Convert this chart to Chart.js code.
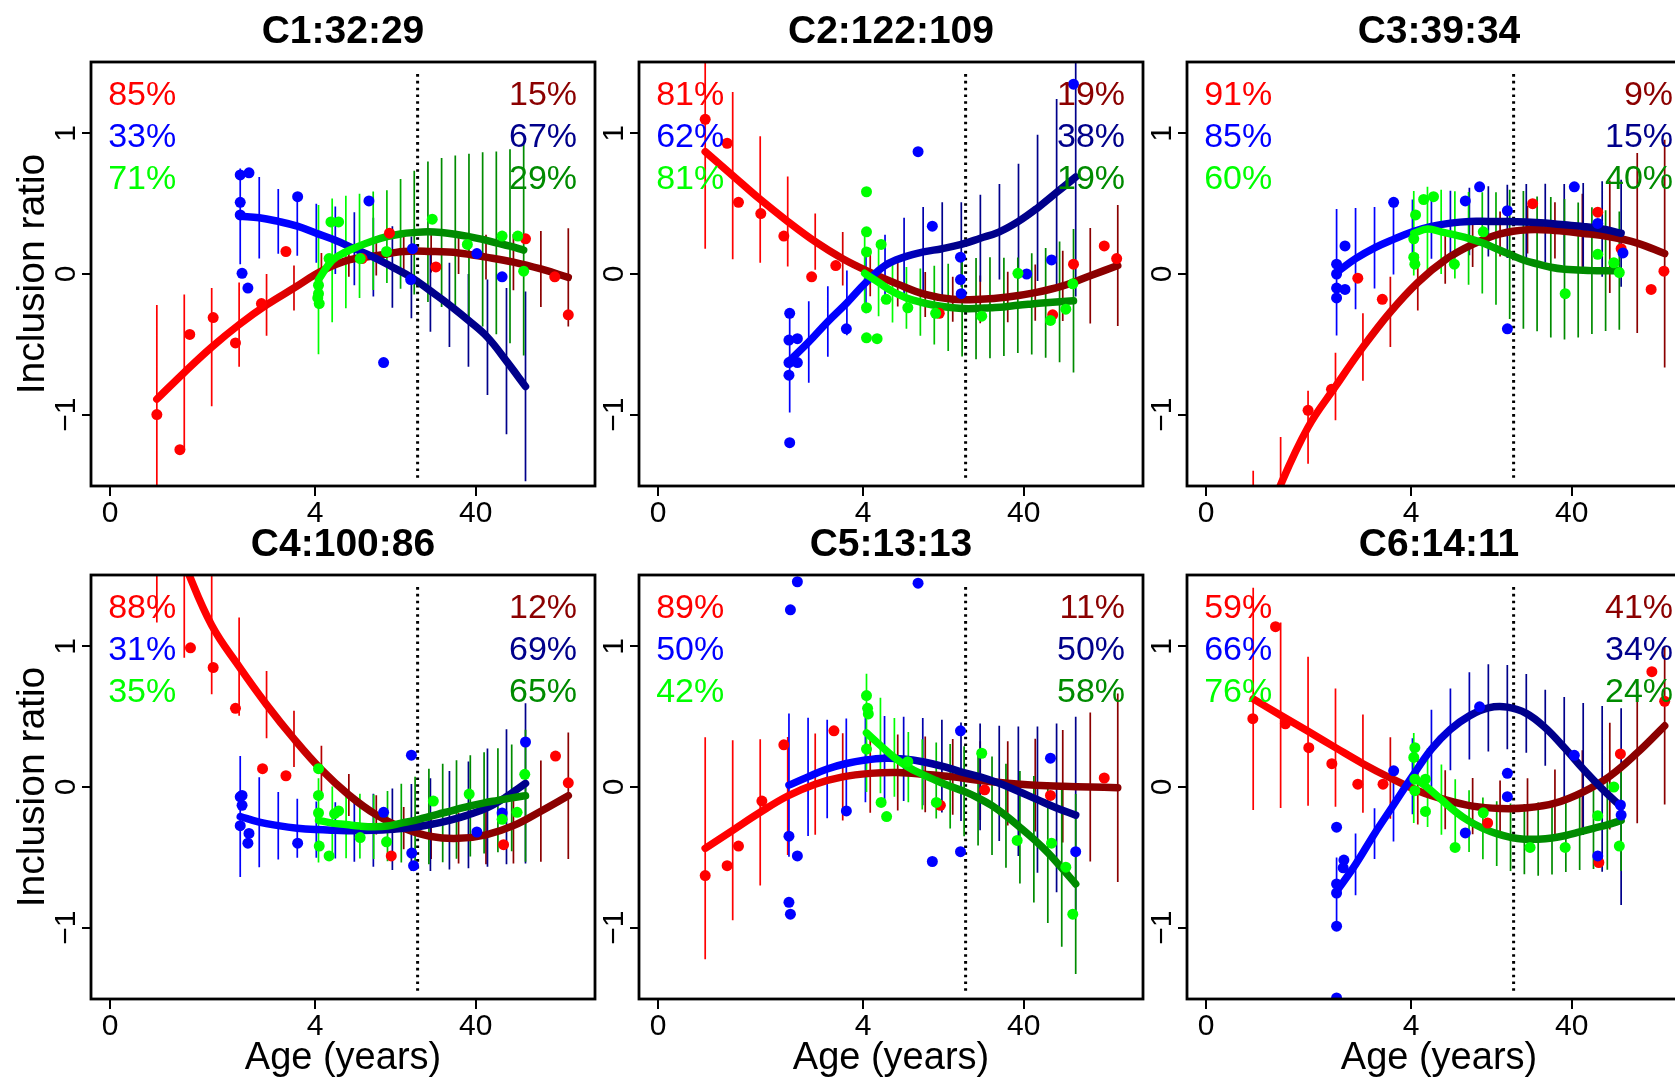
<!DOCTYPE html>
<html>
<head>
<meta charset="utf-8">
<title>Inclusion ratio by age</title>
<script src="https://cdn.jsdelivr.net/npm/chart.js@4.4.1/dist/chart.umd.min.js"></script>
<style>
  html, body { margin:0; padding:0; background:#fff; overflow:hidden; }
  #wrap { position:relative; width:1675px; height:1079px; overflow:hidden; background:#fff; }
  #wrap canvas { position:absolute; }
</style>
</head>
<body>
<div id="wrap"></div>
<script>
// x is in plot units: tick "0" sits at 0, "4" at 56.1, "40" at 100
const X_TICK_VALUES = [0, 56.1, 100];
const X_TICK_LABELS = ['0', '4', '40'];
const Y_TICK_VALUES = [-1, 0, 1];
const Y_TICK_LABELS = ['\u22121', '0', '1'];
const SPLIT_X = 84.1;            // dotted line
const PCT_ROWS = [1.27, 0.97, 0.67];
const PCT_X = [-0.5, 127.7];

const TITLES = ['C1:32:29', 'C2:122:109', 'C3:39:34', 'C4:100:86', 'C5:13:13', 'C6:14:11'];

// --- C1 ---
const C1_PCT_LEFT = ['85%', '33%', '71%'];
const C1_PCT_RIGHT = ['15%', '67%', '29%'];
const C1_RED_SPAN = [12.8, 125.3];
const C1_RED_FIT = [-0.89, -0.70, -0.52, -0.36, -0.22, -0.10, 0.02, 0.10, 0.13, 0.16, 0.16, 0.15, 0.12, 0.085, 0.036, -0.024];
const C1_RED_ERR = [0.67, 0.555, 0.42, 0.30, 0.22, 0.16, 0.13, 0.12, 0.14, 0.15, 0.15, 0.15, 0.16, 0.2, 0.27, 0.35];
const C1_RED_PTS = [[12.8,-1.00],[19.1,-1.25],[21.8,-0.43],[28.2,-0.31],[34.3,-0.49],[41.4,-0.21],[48.1,0.16],[68.9,0.11],[76.4,0.29],[89.1,0.05],[113.6,0.25],[121.6,-0.02],[125.3,-0.29]];
const C1_BLUE_SPAN = [35.6, 113.6];
const C1_BLUE_FIT = [0.41, 0.40, 0.374, 0.34, 0.29, 0.24, 0.18, 0.12, 0.05, -0.024, -0.12, -0.22, -0.33, -0.45, -0.62, -0.80];
const C1_BLUE_ERR = [0.34, 0.29, 0.23, 0.21, 0.21, 0.24, 0.26, 0.28, 0.29, 0.29, 0.29, 0.30, 0.33, 0.41, 0.52, 0.675];
const C1_BLUE_PTS = [[35.6,0.705],[38.0,0.72],[35.6,0.51],[35.6,0.42],[36.1,0.005],[37.7,-0.10],[51.3,0.55],[70.8,0.52],[74.8,-0.63],[82.2,-0.04],[82.7,0.18],[100.3,0.145],[107.2,-0.02]];
const C1_GREEN_SPAN = [57.0, 113.1];
const C1_GREEN_FIT = [-0.04, 0.097, 0.157, 0.20, 0.237, 0.266, 0.285, 0.295, 0.30, 0.295, 0.283, 0.266, 0.246, 0.222, 0.198, 0.17];
const C1_GREEN_ERR = [0.53, 0.44, 0.40, 0.37, 0.35, 0.33, 0.39, 0.44, 0.50, 0.53, 0.56, 0.59, 0.62, 0.65, 0.69, 0.75];
const C1_GREEN_PTS = [[57.0,-0.08],[57.0,-0.14],[57.2,-0.21],[56.8,-0.17],[59.9,0.11],[60.4,0.37],[62.5,0.37],[68.4,0.11],[75.6,0.16],[88.1,0.39],[97.7,0.21],[107.2,0.27],[111.5,0.27],[113.1,0.02]];

// --- C2 ---
const C2_PCT_LEFT = ['81%', '62%', '81%'];
const C2_PCT_RIGHT = ['19%', '38%', '19%'];
const C2_RED_SPAN = [12.9, 125.7];
const C2_RED_FIT = [0.87, 0.70, 0.53, 0.374, 0.23, 0.109, 0.012, -0.072, -0.145, -0.18, -0.18, -0.164, -0.133, -0.085, -0.012, 0.06];
const C2_RED_ERR = [0.69, 0.595, 0.45, 0.32, 0.2, 0.19, 0.17, 0.16, 0.16, 0.16, 0.17, 0.18, 0.2, 0.25, 0.34, 0.43];
const C2_RED_PTS = [[12.9,1.10],[18.9,0.93],[22.0,0.51],[28.1,0.43],[34.4,0.27],[42.0,-0.02],[48.6,0.06],[76.9,-0.28],[107.9,-0.29],[113.6,0.07],[122.0,0.20],[125.4,0.11]];
const C2_BLUE_SPAN = [36.0, 114.2];
const C2_BLUE_FIT = [-0.616, -0.483, -0.338, -0.205, -0.06, 0.06, 0.12, 0.157, 0.18, 0.21, 0.254, 0.30, 0.374, 0.47, 0.58, 0.69];
const C2_BLUE_ERR = [0.37, 0.29, 0.25, 0.23, 0.22, 0.22, 0.28, 0.32, 0.33, 0.30, 0.31, 0.34, 0.41, 0.52, 0.665, 0.85];
const C2_BLUE_PTS = [[36.0,-0.28],[35.8,-0.47],[38.1,-0.46],[35.8,-0.63],[38.1,-0.63],[35.8,-0.72],[36.0,-1.20],[51.5,-0.39],[71.1,0.87],[75.0,0.34],[82.7,0.12],[82.7,-0.04],[82.9,-0.14],[100.8,0.0],[107.6,0.10],[113.6,1.35]];
const C2_GREEN_SPAN = [56.5, 113.6];
const C2_GREEN_FIT = [0.005, -0.06, -0.125, -0.17, -0.20, -0.222, -0.237, -0.246, -0.246, -0.24, -0.234, -0.222, -0.213, -0.205, -0.198, -0.19];
const C2_GREEN_ERR = [0.27, 0.24, 0.22, 0.22, 0.24, 0.28, 0.31, 0.34, 0.36, 0.36, 0.35, 0.34, 0.36, 0.39, 0.43, 0.51];
const C2_GREEN_PTS = [[57.0,0.585],[57.0,0.30],[57.0,0.157],[57.0,-0.24],[57.0,-0.454],[59.9,-0.46],[61.0,0.21],[62.4,-0.18],[68.3,-0.24],[75.9,-0.28],[88.5,-0.30],[98.4,0.005],[107.3,-0.33],[111.5,-0.25],[113.4,-0.07]];

// --- C3 ---
const C3_PCT_LEFT = ['91%', '85%', '60%'];
const C3_PCT_RIGHT = ['9%', '15%', '40%'];
const C3_RED_SPAN = [12.9, 125.4];
const C3_RED_FIT = [-2.0, -1.50, -1.09, -0.80, -0.52, -0.27, -0.06, 0.10, 0.21, 0.285, 0.315, 0.31, 0.29, 0.265, 0.22, 0.145];
const C3_RED_ERR = [0.6, 0.34, 0.26, 0.24, 0.24, 0.25, 0.2, 0.17, 0.16, 0.16, 0.17, 0.2, 0.28, 0.4, 0.64, 0.81];
const C3_RED_PTS = [[27.9,-0.97],[34.3,-0.82],[41.5,-0.03],[48.2,-0.18],[89.3,0.50],[107.1,0.44],[113.5,0.18],[121.7,-0.11],[125.2,0.02]];
const C3_BLUE_SPAN = [35.7, 113.5];
const C3_BLUE_FIT = [0.012, 0.109, 0.186, 0.246, 0.30, 0.338, 0.362, 0.374, 0.374, 0.374, 0.37, 0.362, 0.35, 0.338, 0.32, 0.29];
const C3_BLUE_ERR = [0.45, 0.36, 0.29, 0.25, 0.23, 0.23, 0.23, 0.24, 0.25, 0.26, 0.27, 0.28, 0.29, 0.31, 0.34, 0.38];
const C3_BLUE_PTS = [[35.7,0.07],[35.7,0.0],[35.7,-0.10],[38.0,-0.11],[35.7,-0.17],[38.0,0.20],[51.3,0.51],[70.9,0.52],[74.8,0.62],[82.4,0.45],[82.4,-0.39],[100.7,0.62],[107.1,0.36],[114.0,0.15]];
const C3_GREEN_SPAN = [56.8, 113.0];
const C3_GREEN_FIT = [0.29, 0.32, 0.30, 0.278, 0.254, 0.222, 0.181, 0.14, 0.10, 0.072, 0.048, 0.034, 0.029, 0.024, 0.024, 0.024];
const C3_GREEN_ERR = [0.3, 0.3, 0.3, 0.31, 0.33, 0.36, 0.40, 0.46, 0.49, 0.48, 0.5, 0.5, 0.48, 0.45, 0.43, 0.42];
const C3_GREEN_PTS = [[57.3,0.42],[56.8,0.25],[56.8,0.12],[57.1,0.07],[59.5,0.53],[62.2,0.55],[67.9,0.07],[75.8,0.30],[98.2,-0.14],[107.1,0.14],[111.5,0.08],[113.0,0.01]];

// --- C4 ---
const C4_PCT_LEFT = ['88%', '31%', '35%'];
const C4_PCT_RIGHT = ['12%', '69%', '65%'];
const C4_RED_SPAN = [12.8, 125.3];
const C4_RED_FIT = [2.05, 1.59, 1.15, 0.856, 0.586, 0.342, 0.123, -0.057, -0.198, -0.293, -0.352, -0.365, -0.34, -0.275, -0.172, -0.062];
const C4_RED_ERR = [0.88, 0.67, 0.49, 0.35, 0.24, 0.2, 0.17, 0.15, 0.14, 0.15, 0.16, 0.18, 0.21, 0.27, 0.36, 0.45];
const C4_RED_PTS = [[22.0,0.99],[28.2,0.85],[34.3,0.56],[41.7,0.13],[48.1,0.08],[76.9,-0.49],[107.6,-0.41],[121.8,0.22],[125.3,0.03]];
const C4_BLUE_SPAN = [35.6, 113.6];
const C4_BLUE_FIT = [-0.21, -0.25, -0.275, -0.293, -0.303, -0.308, -0.311, -0.308, -0.30, -0.288, -0.267, -0.237, -0.198, -0.147, -0.069, 0.026];
const C4_BLUE_ERR = [0.43, 0.32, 0.24, 0.21, 0.2, 0.2, 0.22, 0.26, 0.29, 0.31, 0.33, 0.35, 0.38, 0.42, 0.48, 0.57];
const C4_BLUE_PTS = [[35.6,-0.07],[36.1,-0.06],[36.1,-0.13],[35.6,-0.275],[38.0,-0.33],[37.7,-0.40],[51.3,-0.40],[74.8,-0.18],[82.4,0.226],[82.5,-0.47],[83.0,-0.56],[100.3,-0.32],[107.2,-0.185],[113.6,0.32]];
const C4_GREEN_SPAN = [57.0, 113.6];
const C4_GREEN_FIT = [-0.237, -0.257, -0.267, -0.278, -0.283, -0.278, -0.257, -0.237, -0.21, -0.185, -0.16, -0.134, -0.113, -0.095, -0.077, -0.062];
const C4_GREEN_ERR = [0.3, 0.26, 0.24, 0.23, 0.23, 0.25, 0.28, 0.31, 0.34, 0.35, 0.35, 0.36, 0.36, 0.37, 0.38, 0.47];
const C4_GREEN_PTS = [[57.0,0.13],[57.0,-0.06],[57.0,-0.185],[57.2,-0.42],[59.9,-0.49],[61.4,-0.19],[62.5,-0.17],[68.4,-0.36],[75.6,-0.39],[88.4,-0.10],[98.2,-0.05],[107.2,-0.23],[111.3,-0.18],[113.4,0.09]];

// --- C5 ---
const C5_PCT_LEFT = ['89%', '50%', '42%'];
const C5_PCT_RIGHT = ['11%', '50%', '58%'];
const C5_RED_SPAN = [12.9, 125.7];
const C5_RED_FIT = [-0.436, -0.308, -0.18, -0.064, 0.02, 0.072, 0.097, 0.103, 0.09, 0.072, 0.046, 0.026, 0.013, 0.005, 0.0, -0.005];
const C5_RED_ERR = [0.79, 0.64, 0.52, 0.42, 0.36, 0.31, 0.28, 0.27, 0.27, 0.27, 0.28, 0.3, 0.33, 0.4, 0.53, 0.67];
const C5_RED_PTS = [[12.9,-0.63],[18.9,-0.56],[22.0,-0.42],[28.4,-0.10],[34.4,0.30],[48.1,0.40],[77.2,-0.13],[89.3,-0.02],[107.3,-0.06],[122.0,0.064]];
const C5_BLUE_SPAN = [35.8, 114.2];
const C5_BLUE_FIT = [0.013, 0.072, 0.128, 0.167, 0.192, 0.205, 0.2, 0.18, 0.149, 0.108, 0.072, 0.026, -0.03, -0.09, -0.149, -0.20];
const C5_BLUE_ERR = [0.51, 0.42, 0.35, 0.32, 0.3, 0.3, 0.3, 0.31, 0.33, 0.35, 0.38, 0.41, 0.46, 0.52, 0.6, 0.7];
const C5_BLUE_PTS = [[38.1,1.46],[36.2,1.26],[35.8,-0.35],[38.1,-0.49],[35.8,-0.82],[36.2,-0.905],[51.5,-0.17],[71.1,1.45],[75.0,-0.53],[82.7,0.40],[82.7,-0.46],[107.3,0.205],[114.2,-0.46]];
const C5_GREEN_SPAN = [57.0, 114.2];
const C5_GREEN_FIT = [0.385, 0.295, 0.21, 0.141, 0.09, 0.046, 0.005, -0.031, -0.077, -0.133, -0.205, -0.287, -0.372, -0.467, -0.577, -0.69];
const C5_GREEN_ERR = [0.42, 0.34, 0.28, 0.25, 0.25, 0.27, 0.3, 0.32, 0.34, 0.35, 0.37, 0.4, 0.45, 0.5, 0.56, 0.64];
const C5_GREEN_PTS = [[57.0,0.65],[57.3,0.56],[57.5,0.52],[57.0,0.27],[61.0,-0.11],[62.5,-0.21],[68.3,0.18],[76.1,-0.11],[88.5,0.24],[98.2,-0.38],[107.6,-0.40],[111.5,-0.57],[113.4,-0.905]];

// --- C6 ---
const C6_PCT_LEFT = ['59%', '66%', '76%'];
const C6_PCT_RIGHT = ['41%', '34%', '24%'];
const C6_RED_SPAN = [12.9, 125.4];
const C6_RED_FIT = [0.627, 0.51, 0.396, 0.28, 0.166, 0.064, -0.026, -0.09, -0.136, -0.153, -0.148, -0.115, -0.038, 0.077, 0.243, 0.435];
const C6_RED_ERR = [0.79, 0.66, 0.53, 0.42, 0.35, 0.29, 0.24, 0.21, 0.2, 0.2, 0.21, 0.24, 0.3, 0.38, 0.5, 0.56];
const C6_RED_PTS = [[12.8,0.486],[19.0,1.14],[21.7,0.45],[28.1,0.28],[34.4,0.166],[41.5,0.02],[48.4,0.02],[77.0,-0.256],[107.4,-0.537],[113.3,0.235],[121.9,0.82],[125.4,0.61]];
const C6_BLUE_SPAN = [35.7, 113.5];
const C6_BLUE_FIT = [-0.742, -0.55, -0.332, -0.128, 0.077, 0.27, 0.41, 0.506, 0.563, 0.568, 0.524, 0.422, 0.281, 0.128, -0.013, -0.14];
const C6_BLUE_ERR = [0.24, 0.22, 0.18, 0.26, 0.27, 0.28, 0.29, 0.31, 0.31, 0.30, 0.28, 0.27, 0.36, 0.47, 0.59, 0.70];
const C6_BLUE_PTS = [[35.7,-0.286],[37.7,-0.52],[37.5,-0.575],[35.7,-0.69],[35.7,-0.754],[35.7,-0.99],[35.7,-1.50],[51.3,0.115],[70.9,-0.327],[74.8,0.57],[82.4,0.097],[82.4,-0.069],[100.7,0.225],[107.1,-0.49],[113.3,-0.128],[113.5,-0.2]];
const C6_GREEN_SPAN = [56.8, 113.5];
const C6_GREEN_FIT = [0.064, -0.005, -0.09, -0.174, -0.243, -0.294, -0.332, -0.358, -0.371, -0.371, -0.363, -0.345, -0.32, -0.294, -0.269, -0.238];
const C6_GREEN_ERR = [0.32, 0.28, 0.25, 0.23, 0.22, 0.22, 0.23, 0.24, 0.25, 0.26, 0.26, 0.26, 0.27, 0.29, 0.32, 0.36];
const C6_GREEN_PTS = [[57.1,0.28],[56.8,0.21],[57.1,0.056],[57.1,-0.026],[60.0,0.056],[60.0,-0.174],[68.1,-0.43],[75.8,-0.184],[88.6,-0.43],[98.2,-0.43],[107.1,-0.205],[111.5,0.0],[113.0,-0.42]];

// --- styles ---
const FONT = '"Liberation Sans", Arial, Helvetica, sans-serif';
const SERIES_KEYS = ['red', 'blue', 'green'];
const COLORS = {
  red:   { bright: '#ff0000', dark: '#8b0000', fade: [40, 68] },
  blue:  { bright: '#0000ff', dark: '#00008b', fade: [58, 78] },
  green: { bright: '#00ff00', dark: '#008b00', fade: [66, 84] }
};
const X_MIN = -5.2, X_MAX = 132.6, Y_MIN = -1.508, Y_MAX = 1.508;
const CANVAS_W = 610, CANVAS_H = 566, COL_STEP = 548, ROW_STEP = 513;
const BOX_LEFT = 91, BOX_RIGHT_PAD = CANVAS_W - 91 - 504, X_AXIS_H = 80;

function series(span, fit, err, pts){ return { span, fit, err, pts }; }

const PANELS = [
  { title: TITLES[0], left: C1_PCT_LEFT, right: C1_PCT_RIGHT, series: {
    red: series(C1_RED_SPAN, C1_RED_FIT, C1_RED_ERR, C1_RED_PTS),
    blue: series(C1_BLUE_SPAN, C1_BLUE_FIT, C1_BLUE_ERR, C1_BLUE_PTS),
    green: series(C1_GREEN_SPAN, C1_GREEN_FIT, C1_GREEN_ERR, C1_GREEN_PTS) } },
  { title: TITLES[1], left: C2_PCT_LEFT, right: C2_PCT_RIGHT, series: {
    red: series(C2_RED_SPAN, C2_RED_FIT, C2_RED_ERR, C2_RED_PTS),
    blue: series(C2_BLUE_SPAN, C2_BLUE_FIT, C2_BLUE_ERR, C2_BLUE_PTS),
    green: series(C2_GREEN_SPAN, C2_GREEN_FIT, C2_GREEN_ERR, C2_GREEN_PTS) } },
  { title: TITLES[2], left: C3_PCT_LEFT, right: C3_PCT_RIGHT, series: {
    red: series(C3_RED_SPAN, C3_RED_FIT, C3_RED_ERR, C3_RED_PTS),
    blue: series(C3_BLUE_SPAN, C3_BLUE_FIT, C3_BLUE_ERR, C3_BLUE_PTS),
    green: series(C3_GREEN_SPAN, C3_GREEN_FIT, C3_GREEN_ERR, C3_GREEN_PTS) } },
  { title: TITLES[3], left: C4_PCT_LEFT, right: C4_PCT_RIGHT, series: {
    red: series(C4_RED_SPAN, C4_RED_FIT, C4_RED_ERR, C4_RED_PTS),
    blue: series(C4_BLUE_SPAN, C4_BLUE_FIT, C4_BLUE_ERR, C4_BLUE_PTS),
    green: series(C4_GREEN_SPAN, C4_GREEN_FIT, C4_GREEN_ERR, C4_GREEN_PTS) } },
  { title: TITLES[4], left: C5_PCT_LEFT, right: C5_PCT_RIGHT, series: {
    red: series(C5_RED_SPAN, C5_RED_FIT, C5_RED_ERR, C5_RED_PTS),
    blue: series(C5_BLUE_SPAN, C5_BLUE_FIT, C5_BLUE_ERR, C5_BLUE_PTS),
    green: series(C5_GREEN_SPAN, C5_GREEN_FIT, C5_GREEN_ERR, C5_GREEN_PTS) } },
  { title: TITLES[5], left: C6_PCT_LEFT, right: C6_PCT_RIGHT, series: {
    red: series(C6_RED_SPAN, C6_RED_FIT, C6_RED_ERR, C6_RED_PTS),
    blue: series(C6_BLUE_SPAN, C6_BLUE_FIT, C6_BLUE_ERR, C6_BLUE_PTS),
    green: series(C6_GREEN_SPAN, C6_GREEN_FIT, C6_GREEN_ERR, C6_GREEN_PTS) } }
];

// --- helpers ---
// the CI bars sit on an even grid between the ends of each fitted curve
function gridX(span, n){
  const out = []; const step = (span[1] - span[0]) / (n - 1);
  for (let k = 0; k < n; k++) out.push(span[0] + k * step);
  return out;
}

// bright -> dark along x, same as the fitted curves in the original
function fadeColor(chart, key){
  const c = COLORS[key];
  const sx = chart.scales && chart.scales.x;
  if (!chart.chartArea || !sx) return c.bright;
  const g = chart.ctx.createLinearGradient(sx.getPixelForValue(c.fade[0]), 0, sx.getPixelForValue(c.fade[1]), 0);
  g.addColorStop(0, c.bright); g.addColorStop(1, c.dark);
  return g;
}

function buildDatasets(panel){
  const sets = [{
    type: 'line', label: 'split', data: [{x: SPLIT_X, y: -1.45}, {x: SPLIT_X, y: 1.45}],
    borderColor: '#000', borderWidth: 3, borderDash: [2.6, 4.2], pointRadius: 0, clip: 0, order: 20
  }];
  SERIES_KEYS.forEach((key, si) => {
    const s = panel.series[key];
    const xs = gridX(s.span, s.fit.length);
    const bars = [];
    xs.forEach((x, k) => { bars.push({x, y: s.fit[k] - s.err[k]}, {x, y: s.fit[k] + s.err[k]}, {x, y: null}); });
    sets.push({
      type: 'line', label: key + ' ci', data: bars, borderColor: ctx => fadeColor(ctx.chart, key),
      borderWidth: 1.7, pointRadius: 0, spanGaps: false, clip: 0, order: 15 - si
    });
    sets.push({
      type: 'line', label: key + ' fit', data: xs.map((x, k) => ({x, y: s.fit[k]})),
      borderColor: ctx => fadeColor(ctx.chart, key), borderWidth: 7.5, borderCapStyle: 'round', borderJoinStyle: 'round',
      tension: 0.4, pointRadius: 0, clip: 0, order: 10 - si
    });
    sets.push({
      type: 'scatter', label: key, data: s.pts.map(([x, y]) => ({x, y})),
      pointRadius: 5.5, pointBackgroundColor: COLORS[key].bright, pointBorderWidth: 0, borderColor: COLORS[key].bright,
      clip: 0, order: 5 - si
    });
  });
  return sets;
}

// percentages + frame
const panelDecor = {
  id: 'panelDecor',
  afterDatasetsDraw(chart, args, opts){
    const { ctx, chartArea: a, scales: { x, y } } = chart;
    ctx.save();
    ctx.font = '34px ' + FONT;
    ctx.textBaseline = 'middle';
    SERIES_KEYS.forEach((key, i) => {
      const py = y.getPixelForValue(PCT_ROWS[i]);
      ctx.fillStyle = COLORS[key].bright; ctx.textAlign = 'left';
      ctx.fillText(opts.left[i], x.getPixelForValue(PCT_X[0]), py);
      ctx.fillStyle = COLORS[key].dark; ctx.textAlign = 'right';
      ctx.fillText(opts.right[i], x.getPixelForValue(PCT_X[1]), py);
    });
    ctx.lineWidth = 2.8; ctx.strokeStyle = '#000';
    ctx.strokeRect(a.left, a.top, a.right - a.left, a.bottom - a.top);
    ctx.restore();
  }
};

function makePanel(panel, i){
  const row = Math.floor(i / 3), col = i % 3;
  const cv = document.createElement('canvas');
  cv.width = CANVAS_W; cv.height = CANVAS_H;
  cv.style.left = (col * COL_STEP) + 'px';
  cv.style.top = (row * ROW_STEP) + 'px';
  document.getElementById('wrap').appendChild(cv);

  return new Chart(cv, {
    type: 'scatter',
    data: { datasets: buildDatasets(panel) },
    plugins: [panelDecor],
    options: {
      responsive: false, animation: false, devicePixelRatio: 1, events: [],
      layout: { padding: { left: 0, top: 0, right: BOX_RIGHT_PAD, bottom: 0 } },
      plugins: {
        legend: { display: false },
        tooltip: { enabled: false },
        title: {
          display: true, text: panel.title, color: '#000', fullSize: false,
          font: { family: FONT, size: 39, weight: 'bold' }, padding: { top: 8.8, bottom: 6.4 }
        },
        panelDecor: { left: panel.left, right: panel.right }
      },
      scales: {
        x: {
          type: 'linear', min: X_MIN, max: X_MAX,
          afterBuildTicks: s => { s.ticks = X_TICK_VALUES.map(v => ({ value: v })); },
          afterFit: s => { s.height = X_AXIS_H; },
          ticks: {
            callback: v => X_TICK_LABELS[X_TICK_VALUES.indexOf(v)],
            font: { family: FONT, size: 30 }, color: '#000', padding: 0,
            minRotation: 0, maxRotation: 0, autoSkip: false
          },
          grid: { drawOnChartArea: false, tickLength: 10, color: '#000', lineWidth: 2 },
          border: { display: false },
          title: {
            display: row === 1, text: 'Age (years)', color: '#000',
            font: { family: FONT, size: 38 }, padding: { top: 0, bottom: -2 }
          }
        },
        y: {
          type: 'linear', min: Y_MIN, max: Y_MAX,
          afterBuildTicks: s => { s.ticks = Y_TICK_VALUES.map(v => ({ value: v })); },
          afterFit: s => { s.width = BOX_LEFT; },
          ticks: {
            callback: v => Y_TICK_LABELS[Y_TICK_VALUES.indexOf(v)],
            font: { family: FONT, size: 30 }, color: '#000', padding: -2,
            minRotation: 90, maxRotation: 90, crossAlign: 'center'
          },
          grid: { drawOnChartArea: false, tickLength: 9, color: '#000', lineWidth: 2 },
          border: { display: false },
          title: {
            display: col === 0, text: 'Inclusion ratio', color: '#000',
            font: { family: FONT, size: 39 }, padding: { top: 9.8, bottom: 0 }
          }
        }
      }
    }
  });
}

PANELS.forEach(makePanel);
</script>
</body>
</html>
